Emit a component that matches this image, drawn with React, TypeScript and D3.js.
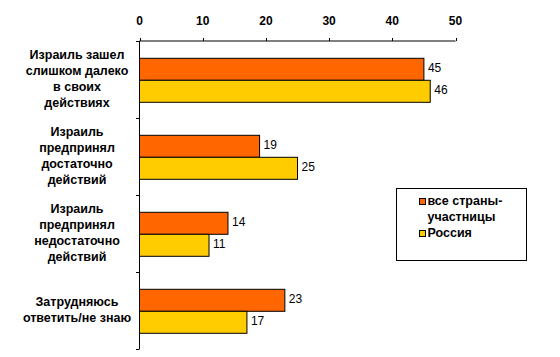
import React from "react";
import * as d3 from "d3";

const categories: string[][] = [
  ["Израиль зашел", "слишком далеко", "в своих", "действиях"],
  ["Израиль", "предпринял", "достаточно", "действий"],
  ["Израиль", "предпринял", "недостаточно", "действий"],
  ["Затрудняюсь", "ответить/не знаю"],
];
const seriesNames = ["все страны-участницы", "Россия"];
const allCountries = [45, 19, 14, 23];
const russia = [46, 25, 11, 17];
const xTicks = [0, 10, 20, 30, 40, 50];
const colors = ["#FF6600", "#FFCC00"];

export default function App() {
  const W = 560, H = 357;
  const x = d3.scaleLinear().domain([0, 50]).range([139.5, 455.5]);
  const y = d3.scaleBand<number>().domain(d3.range(categories.length)).range([41, 349]);
  const bw = 22;
  const font = "Arial, 'Liberation Sans', sans-serif";
  const bfs = 12.5;
  const series = [allCountries, russia];
  return (
    <svg width={W} height={H} style={{ position: "absolute", left: 0, top: 0 }}>
      <rect width={W} height={H} fill="#fff" />
      {/* top axis */}
      <line x1={x(0)} x2={x(50)} y1={41} y2={41} stroke="#000" />
      {xTicks.map((t) => (
        <g key={t}>
          <line x1={Math.round(x(t)) + 0.5} x2={Math.round(x(t)) + 0.5} y1={38} y2={41} stroke="#000" />
          <text x={x(t)} y={22} textAnchor="middle" dominantBaseline="middle" fontFamily={font} fontWeight="bold" fontSize={12}>
            {t}
          </text>
        </g>
      ))}
      {/* left axis */}
      <line x1={139.5} x2={139.5} y1={41} y2={349} stroke="#000" />
      {d3.range(categories.length + 1).map((i) => {
        const yy = Math.round(41 + i * y.bandwidth()) + 0.5;
        return <line key={i} x1={136} x2={139.5} y1={yy} y2={yy} stroke="#000" />;
      })}
      {categories.map((lines, i) => {
        const c = (y(i) as number) + y.bandwidth() / 2;
        const top = (y(i) as number) + 17.3;
        return (
          <g key={i}>
            {lines.map((l, j) => (
              <text
                key={j}
                x={77}
                y={c + (j - (lines.length - 1) / 2) * 16}
                textAnchor="middle"
                dominantBaseline="middle"
                fontFamily={font}
                fontWeight="bold"
                fontSize={bfs}
              >
                {l}
              </text>
            ))}
            {series.map((s, k) => (
              <g key={k}>
                <rect
                  x={x(0)}
                  y={top + k * bw}
                  width={x(s[i]) - x(0)}
                  height={bw}
                  fill={colors[k]}
                  stroke="#000"
                  strokeWidth={1}
                />
                <text
                  x={x(s[i]) + 4}
                  y={top + k * bw + bw / 2}
                  dominantBaseline="middle"
                  fontFamily={font}
                  fontSize={12}
                >
                  {s[i]}
                </text>
              </g>
            ))}
          </g>
        );
      })}
      {/* legend */}
      <rect x={396.5} y={188.5} width={130} height={72} fill="#fff" stroke="#000" />
      <rect x={419.5} y={198.5} width={6} height={6} fill={colors[0]} stroke="#000" />
      <text x={427.5} y={202} dominantBaseline="middle" fontFamily={font} fontWeight="bold" fontSize={bfs}>
        все страны-
      </text>
      <text x={427.5} y={217.5} dominantBaseline="middle" fontFamily={font} fontWeight="bold" fontSize={bfs}>
        участницы
      </text>
      <rect x={419.5} y={230.5} width={6} height={6} fill={colors[1]} stroke="#000" />
      <text x={427.5} y={234} dominantBaseline="middle" fontFamily={font} fontWeight="bold" fontSize={bfs}>
        {seriesNames[1]}
      </text>
    </svg>
  );
}
